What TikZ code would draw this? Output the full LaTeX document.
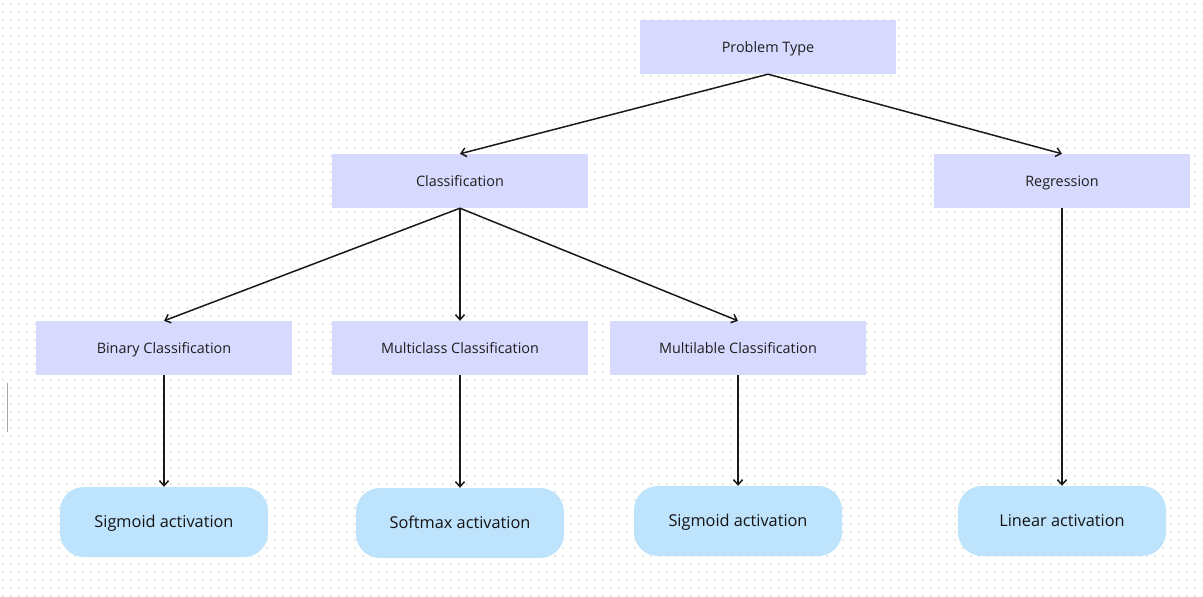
\documentclass[tikz,border=0pt]{standalone}
\usepackage{fontspec}
\setmainfont{Open Sans}
\usetikzlibrary{arrows.meta}
\definecolor{boxfill}{HTML}{D7D9FE}
\definecolor{pillfill}{HTML}{BEE3FD}
\definecolor{dotgray}{HTML}{E6E6E6}
\definecolor{inkline}{HTML}{1A1A1A}
\tikzset{
  typebox/.style={draw=none, fill=boxfill, minimum width=256pt, minimum height=54pt,
    inner sep=0pt, text height=1.1em, text depth=0pt,
    font=\fontsize{14.4}{17}\selectfont, text=black!88},
  actpill/.style={draw=none, fill=pillfill, rounded corners=24pt, minimum width=208pt,
    minimum height=70pt, inner sep=0pt, text height=1.1em, text depth=0pt,
    font=\fontsize{16.3}{19}\selectfont, text=black!92},
  link/.style={draw=inkline, line width=1.5pt, -{Straight Barb[length=5pt,width=9pt,line width=1.5pt]}},
}
\begin{document}
\begin{tikzpicture}[x=1pt,y=-1pt]
  \useasboundingbox (0,0) rectangle (1203,597);
  \fill[white] (0,0) rectangle (1203,597);
  % dotted background grid
  \foreach \r in {0,...,74}{
    \draw[dotgray, line width=1.6pt, dash pattern=on 1.6pt off 6.4pt, dash phase=-2pt]
      (0,{4+8*\r}) -- (1203,{4+8*\r});
  }
  % stray margin mark
  \draw[gray!70, line width=1pt] (7,383) -- (7,432);

  % category boxes
  \node[typebox] (ptype) at (768,47)  {Problem Type};
  \node[typebox] (cls)   at (460,181) {Classification};
  \node[typebox] (reg)   at (1062,181) {Regression};
  \node[typebox] (bin)   at (164,348) {Binary Classification};
  \node[typebox] (multi) at (460,348) {Multiclass Classification};
  \node[typebox] (mlab)  at (738,348) {Multilable Classification};

  % activation pills
  \node[actpill] (sig1) at (164,522) {Sigmoid activation};
  \node[actpill] (soft) at (460,523) {Softmax activation};
  \node[actpill] (sig2) at (738,521) {Sigmoid activation};
  \node[actpill] (lin)  at (1062,521) {Linear activation};

  % connectors
  \draw[link] (ptype.south) -- (cls.north);
  \draw[link] (ptype.south) -- (reg.north);
  \draw[link] (cls.south) -- (bin.north);
  \draw[link] (cls.south) -- (multi.north);
  \draw[link] (cls.south) -- (mlab.north);
  \draw[link] (bin.south) -- (sig1.north);
  \draw[link] (multi.south) -- (soft.north);
  \draw[link] (mlab.south) -- (sig2.north);
  \draw[link] (reg.south) -- (lin.north);
\end{tikzpicture}
\end{document}
